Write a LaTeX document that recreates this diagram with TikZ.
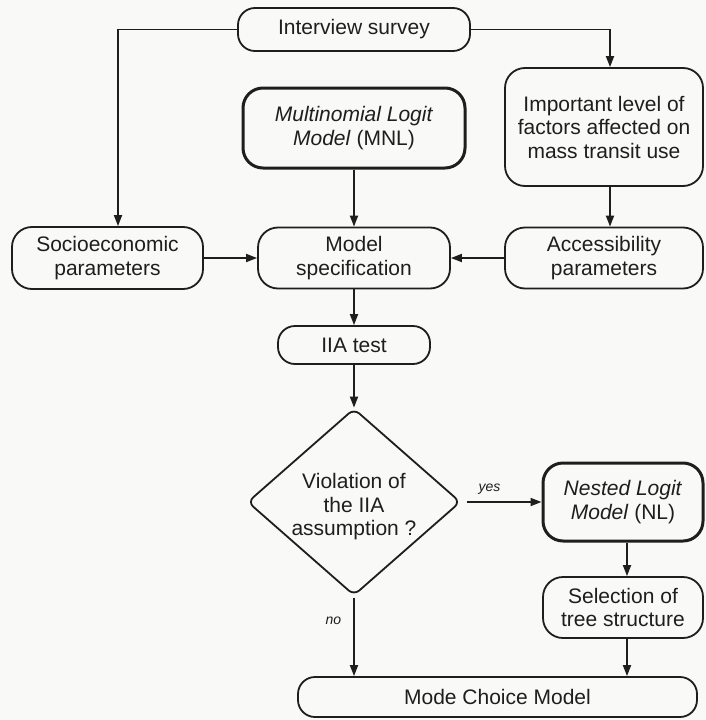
\documentclass[tikz,border=0pt]{standalone}
\usepackage{fontspec}
\setmainfont{Liberation Sans}
\usetikzlibrary{arrows.meta,shapes.geometric}
\definecolor{ink}{RGB}{30,30,30}
\definecolor{txt}{RGB}{30,30,30}
\definecolor{paper}{RGB}{249,249,247}
\begin{document}
\begin{tikzpicture}[x=1pt,y=-1pt,
  every node/.style={text=txt,font=\fontsize{21}{23.5}\selectfont,align=center,inner sep=0pt},
  box/.style={draw=ink,line width=1.8pt,rounded corners=20pt},
  pill/.style={draw=ink,line width=1.8pt,rounded corners=17pt},
  boldbox/.style={draw=ink,line width=3pt,rounded corners=20pt},
  arr/.style={draw=ink,line width=1.8pt,-{Triangle[length=11pt,width=8pt]}},
  lab/.style={font=\fontsize{14}{16}\selectfont\itshape}]
\fill[paper] (0,0) rectangle (706,720);
\useasboundingbox (0,0) rectangle (706,720);

\node[pill,minimum width=232pt,minimum height=43pt] (iv) at (354,29.5) {Interview survey};
\node[boldbox,minimum width=222pt,minimum height=80pt] (mnl) at (354,128) {\textit{Multinomial Logit}\\\textit{Model} (MNL)};
\node[box,minimum width=198pt,minimum height=118pt] (imp) at (604,127) {Important level of\\factors affected on\\mass transit use};
\node[box,minimum width=191pt,minimum height=62pt] (soc) at (107.5,258) {Socioeconomic\\parameters};
\node[box,minimum width=192pt,minimum height=61pt] (spec) at (354,258) {Model\\specification};
\node[box,minimum width=198pt,minimum height=61pt] (acc) at (604,258) {Accessibility\\parameters};
\node[pill,minimum width=152pt,minimum height=38pt] (iia) at (354,345) {IIA test};
\node[draw=ink,line width=1.8pt,shape=diamond,aspect=1.13,rounded corners=7pt,minimum width=213pt,minimum height=187pt] (dia) at (354,502) {};
\node (diat) at (354,507) {Violation of\\the IIA\\assumption ?};
\node[boldbox,minimum width=160pt,minimum height=78pt] (nl) at (623,502) {\textit{Nested Logit}\\\textit{Model} (NL)};
\node[box,minimum width=160pt,minimum height=61pt] (sel) at (623,607.5) {Selection of\\tree structure};
\node[pill,minimum width=399pt,minimum height=40pt] (mode) at (497.5,697) {Mode Choice Model};

\draw[arr] (iv.west) -| ([xshift=10.5pt]soc.north);
\draw[arr] (iv.east) -| ([xshift=6pt]imp.north);
\draw[arr] (mnl.south) -- (spec.north);
\draw[arr] ([xshift=6pt]imp.south) -- ([xshift=6pt]acc.north);
\draw[arr] (soc.east) -- (spec.west);
\draw[arr] (acc.west) -- (spec.east);
\draw[arr] (spec.south) -- (iia.north);
\draw[arr] (iia.south) -- (dia.north);
\draw[arr,shorten <=6pt] (dia.east) -- node[lab,above=7pt,xshift=-12pt] (yes) {yes} (nl.west);
\draw[arr] ([xshift=4pt]nl.south) -- ([xshift=4pt]sel.north);
\draw[arr] ([xshift=4pt]sel.south) -- ([xshift=4pt]sel.south |- mode.north);
\draw[arr,shorten <=2pt] (dia.south) -- node[lab,left=12pt,pos=0.3] (no) {no} (dia.south |- mode.north);
\end{tikzpicture}
\end{document}
